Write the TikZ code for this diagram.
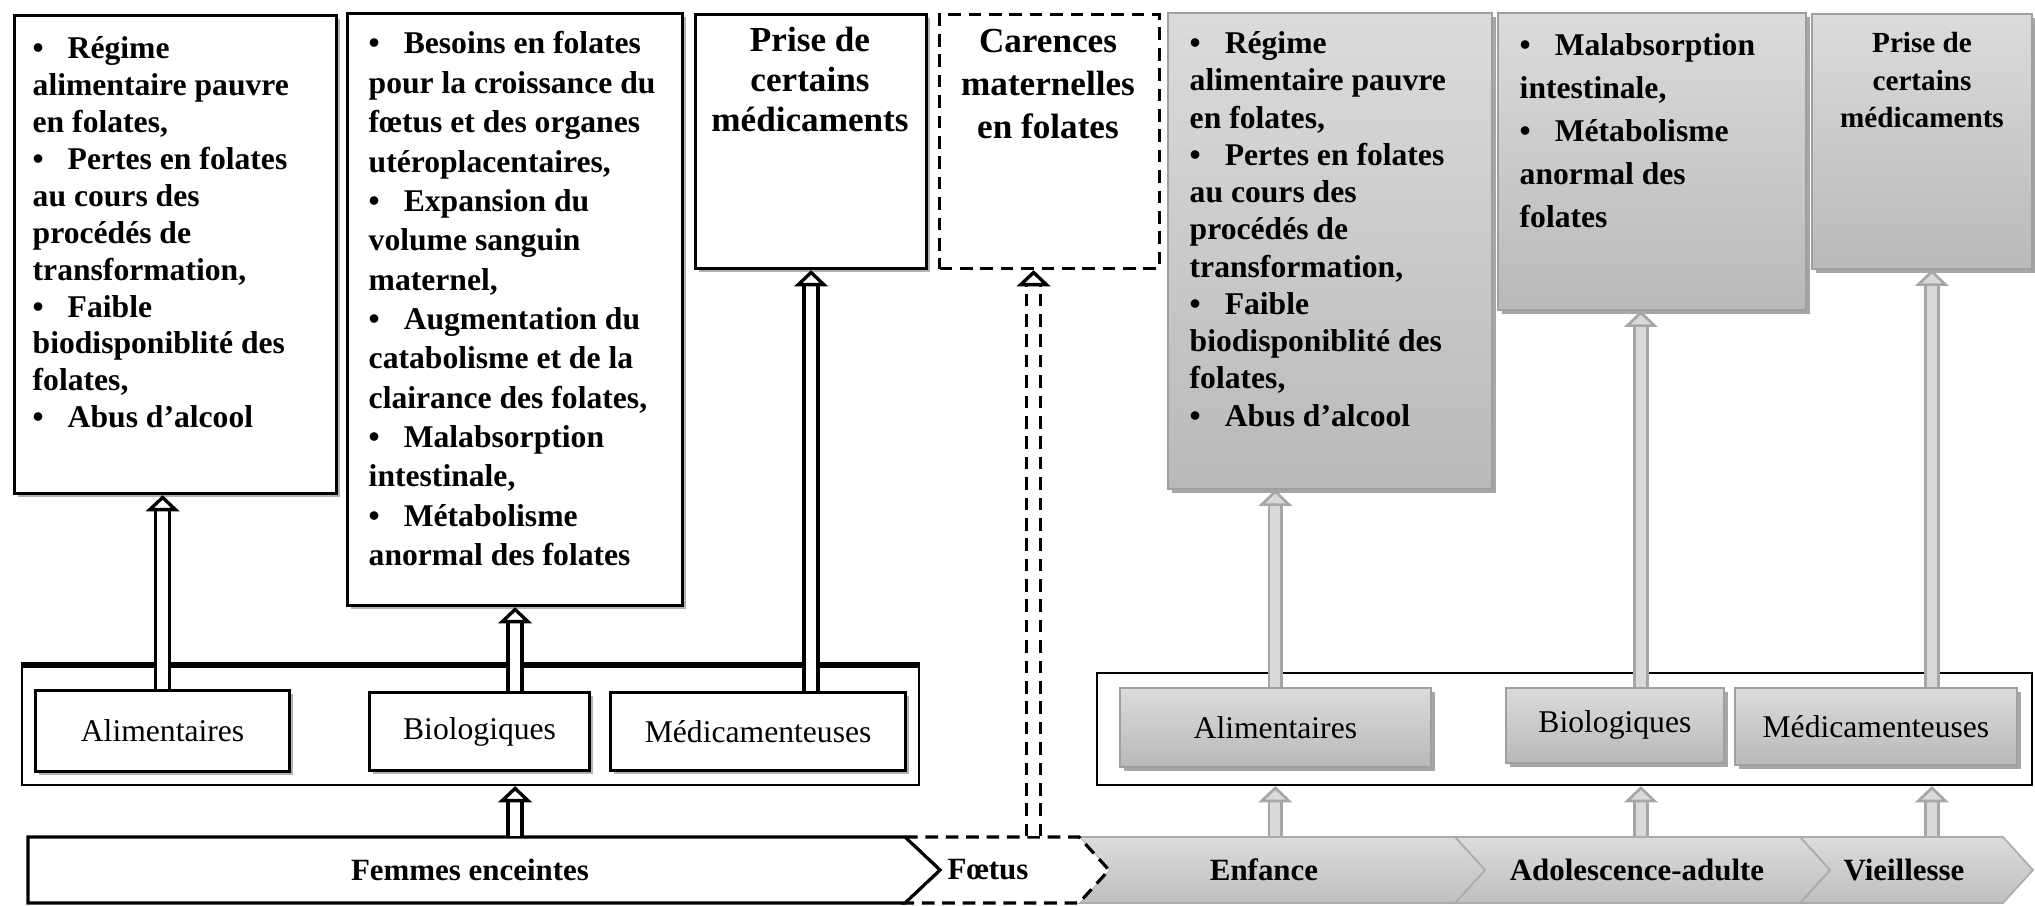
\documentclass[tikz,border=0pt]{standalone}
\usepackage{fontspec}
\setmainfont{Liberation Serif}
\usetikzlibrary{arrows.meta,shadows}

\newcommand{\puce}{\textbullet\hspace{2.4mm}}

\begin{document}
\begin{tikzpicture}[x=0.1mm,y=-0.1mm,
    cadre/.style={draw,line width=0.9pt,fill=white,anchor=north west,inner sep=0pt,
      drop shadow={shadow xshift=0.3mm,shadow yshift=-0.3mm,fill=gray!60,opacity=1}},
    gris/.style={draw=gray!75,line width=0.5pt,top color=gray!28,bottom color=gray!55,
      anchor=north west,inner sep=0pt,
      drop shadow={shadow xshift=0.4mm,shadow yshift=-0.4mm,fill=gray!70,opacity=1}},
    tirets/.style={draw,line width=0.9pt,dash pattern=on 3.6pt off 2.2pt,
      anchor=north west,inner sep=0pt},
    liste/.style={anchor=north west,align=left,inner sep=0pt,
      font=\fontsize{9}{10.5}\selectfont\bfseries},
    titre/.style={anchor=north,align=center,inner sep=0pt,
      font=\fontsize{10}{11.5}\selectfont\bfseries},
    cause/.style={font=\fontsize{9}{10}\selectfont},
    age/.style={inner sep=0pt,minimum height=6.6mm,font=\fontsize{8.8}{10}\selectfont\bfseries},
    fleche/.style={draw=black,line width=0.95pt,double=white,double distance=3pt,
      -{Triangle[length=4.6pt,width=9.5pt,fill=white]}},
    flechetirets/.style={fleche,dash pattern=on 3.6pt off 2.2pt},
    flechegris/.style={draw=gray!70,line width=0.75pt,double=gray!30,double distance=2.9pt,
      -{Triangle[length=4.6pt,width=9.5pt,fill=gray!30]}}]
  \useasboundingbox (0,0) rectangle (2035,905);

  % femmes enceintes : causes
  \node[cadre,minimum width=32.2mm,minimum height=47.8mm] (regA) at (13,14) {};
  \node[liste] (regAtxt) at (32,36) {\puce Régime\\alimentaire pauvre\\en folates,\\
    \puce Pertes en folates\\au cours des\\procédés de\\transformation,\\
    \puce Faible\\biodisponiblité des\\folates,\\\puce Abus d’alcool};
  \node[cadre,minimum width=33.5mm,minimum height=59.2mm] (besoins) at (346,12) {};
  \node[liste,font=\fontsize{9}{11.2}\selectfont\bfseries] (besoinstxt) at (368,31)
    {\puce Besoins en folates\\pour la croissance du\\fœtus et des organes\\utéroplacentaires,\\
    \puce Expansion du\\volume sanguin\\maternel,\\
    \puce Augmentation du\\catabolisme et de la\\clairance des folates,\\
    \puce Malabsorption\\intestinale,\\\puce Métabolisme\\anormal des folates};
  \node[cadre,minimum width=23.1mm,minimum height=25.4mm] (priseA) at (694,13) {};
  \node[titre] (priseAtxt) at (810,26) {Prise de\\certains\\médicaments};
  \node[tirets,minimum width=22mm,minimum height=25.4mm] (carences) at (938,13) {};
  \node[titre,font=\fontsize{10}{12.2}\selectfont\bfseries] (carencestxt) at (1048,29)
    {Carences\\maternelles\\en folates};

  \node[draw,line width=0.6pt,anchor=north west,minimum width=89.7mm,minimum height=11.9mm,
    inner sep=0pt] (causesA) at (21,665) {};
  \draw[line width=1.6pt] (causesA.north west) -- (causesA.north east);
  \node[cadre,cause,minimum width=25.4mm,minimum height=8.1mm] (alimA) at (34,689) {Alimentaires};
  \node[cadre,cause,minimum width=22mm,minimum height=7.8mm] (bioA) at (368,691) {Biologiques};
  \node[cadre,cause,minimum width=29.5mm,minimum height=7.8mm] (medA) at (609,691) {Médicamenteuses};

  % enfance, adulte, vieillesse : causes
  \node[gris,minimum width=32.4mm,minimum height=47.6mm] (regB) at (1167,12) {};
  \node[liste,font=\fontsize{9}{10.6}\selectfont\bfseries] (regBtxt) at (1189,31)
    {\puce Régime\\alimentaire pauvre\\en folates,\\
    \puce Pertes en folates\\au cours des\\procédés de\\transformation,\\
    \puce Faible\\biodisponiblité des\\folates,\\\puce Abus d’alcool};
  \node[gris,minimum width=30.8mm,minimum height=29.7mm] (malab) at (1497,12) {};
  \node[liste,font=\fontsize{9}{12.2}\selectfont\bfseries] (malabtxt) at (1519,33)
    {\puce Malabsorption\\intestinale,\\\puce Métabolisme\\anormal des\\folates};
  \node[gris,minimum width=22mm,minimum height=25.5mm] (priseB) at (1811,13) {};
  \node[titre,font=\fontsize{8.3}{10.6}\selectfont\bfseries] (priseBtxt) at (1922,32)
    {Prise de\\certains\\médicaments};

  \node[draw,line width=0.6pt,anchor=north west,minimum width=93.5mm,minimum height=11.2mm,
    inner sep=0pt] (causesB) at (1096,672) {};
  \node[gris,cause,minimum width=31.1mm,minimum height=7.9mm] (alimB) at (1119,687) {Alimentaires};
  \node[gris,cause,minimum width=21.8mm,minimum height=7.5mm] (bioB) at (1505,687) {Biologiques};
  \node[gris,cause,minimum width=28.2mm,minimum height=7.7mm] (medB) at (1734,687) {Médicamenteuses};

  % frise des ages
  \shadedraw[draw=gray!65,line width=0.5pt,top color=gray!28,bottom color=gray!50]
    (1800,837) -- (2003,837) -- (2033,870) -- (2003,903) -- (1800,903) -- (1830,870) -- cycle;
  \shadedraw[draw=gray!65,line width=0.5pt,top color=gray!28,bottom color=gray!50]
    (1455,837) -- (1800,837) -- (1830,870) -- (1800,903) -- (1455,903) -- (1485,870) -- cycle;
  \shadedraw[draw=gray!65,line width=0.5pt,top color=gray!28,bottom color=gray!50]
    (1079,837) -- (1455,837) -- (1485,870) -- (1455,903) -- (1079,903) -- (1109,870) -- cycle;
  \filldraw[fill=white,line width=0.9pt,dash pattern=on 3.6pt off 2.2pt]
    (905,837) -- (1079,837) -- (1109,870) -- (1079,903) -- (905,903) -- (940,870) -- cycle;
  \filldraw[fill=white,line width=0.9pt]
    (28,837) -- (905,837) -- (940,870) -- (905,903) -- (28,903) -- cycle;
  \node[age] (femmes) at (470,870) {Femmes enceintes};
  \node[age] (foetus) at (988,870) {Fœtus};
  \node[age] (enfance) at (1264,870) {Enfance};
  \node[age] (adulte) at (1637,870) {Adolescence-adulte};
  \node[age] (vieil) at (1904,870) {Vieillesse};

  % fleches
  \coordinate (colC) at ([xshift=-1.6mm]carences.south);
  \coordinate (colB) at ([xshift=-1.1mm]malab.south);
  \coordinate (colD) at ([xshift=1mm]priseB.south);
  \draw[fleche] (alimA.north) -- (alimA |- regA.south);
  \draw[fleche] (besoins.south |- bioA.north) -- (besoins.south);
  \draw[fleche] (priseA.south |- medA.north) -- (priseA.south);
  \draw[fleche] (besoins.south |- femmes.north) -- (besoins.south |- causesA.south);
  \draw[flechetirets] (colC |- foetus.north) -- (colC);
  \draw[flechegris] (alimB |- enfance.north) -- (alimB |- causesB.south);
  \draw[flechegris] (alimB.north) -- (alimB |- regB.south);
  \draw[flechegris] (colB |- adulte.north) -- (colB |- causesB.south);
  \draw[flechegris] (colB |- bioB.north) -- (colB);
  \draw[flechegris] (colD |- vieil.north) -- (colD |- causesB.south);
  \draw[flechegris] (colD |- medB.north) -- (colD);
\end{tikzpicture}
\end{document}
